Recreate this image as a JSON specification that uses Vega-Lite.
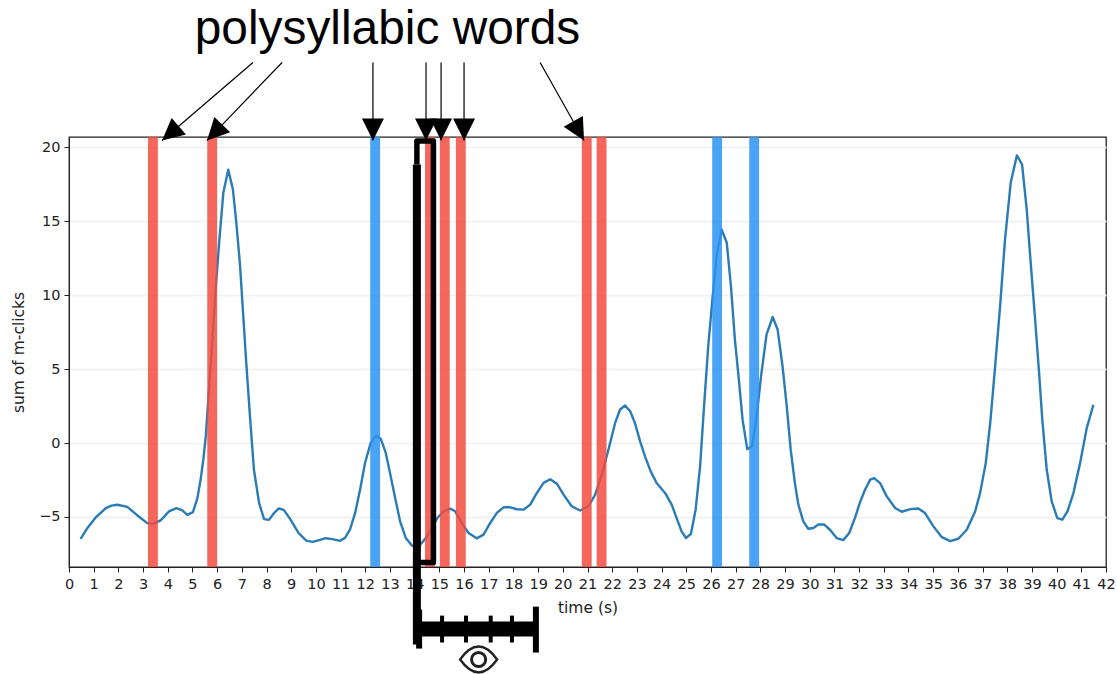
{
"$schema":"https://vega.github.io/schema/vega-lite/v6.json",
"width":1037,"height":430,
"autosize":{"type":"none"},
"padding":{"left":69,"top":137,"right":11,"bottom":107},
"background":"white",
"config":{"view":{"stroke":"#222222","strokeWidth":1.3},"font":"DejaVu Sans"},
"datasets":{
"curve":[
{"t":0.47,"v":-6.48},{"t":0.74,"v":-5.76},{"t":1.08,"v":-5.04},{"t":1.49,"v":-4.41},{"t":1.72,"v":-4.24},{"t":1.96,"v":-4.18},{"t":2.36,"v":-4.32},{"t":2.77,"v":-4.9},{"t":3.17,"v":-5.42},{"t":3.4,"v":-5.49},{"t":3.71,"v":-5.24},{"t":4.05,"v":-4.63},{"t":4.35,"v":-4.41},{"t":4.59,"v":-4.56},{"t":4.79,"v":-4.86},{"t":5.02,"v":-4.68},{"t":5.2,"v":-3.73},{"t":5.33,"v":-2.49},{"t":5.44,"v":-1.13},{"t":5.54,"v":0.45},{"t":5.64,"v":2.93},{"t":5.78,"v":6.3},{"t":5.94,"v":10.4},{"t":6.08,"v":13.54},{"t":6.25,"v":16.93},{"t":6.45,"v":18.5},{"t":6.64,"v":17.15},{"t":6.79,"v":14.67},{"t":6.93,"v":11.96},{"t":7.05,"v":8.8},{"t":7.18,"v":5.41},{"t":7.33,"v":1.8},{"t":7.49,"v":-1.81},{"t":7.7,"v":-4.07},{"t":7.9,"v":-5.15},{"t":8.1,"v":-5.2},{"t":8.3,"v":-4.75},{"t":8.5,"v":-4.43},{"t":8.7,"v":-4.52},{"t":8.98,"v":-5.2},{"t":9.3,"v":-6.1},{"t":9.61,"v":-6.6},{"t":9.86,"v":-6.69},{"t":10.13,"v":-6.57},{"t":10.4,"v":-6.44},{"t":10.67,"v":-6.5},{"t":10.98,"v":-6.62},
{"t":11.18,"v":-6.42},{"t":11.38,"v":-5.86},{"t":11.59,"v":-4.73},{"t":11.79,"v":-3.15},{"t":11.99,"v":-1.35},{"t":12.22,"v":0.01},{"t":12.44,"v":0.5},{"t":12.63,"v":0.28},{"t":12.83,"v":-0.67},{"t":13.0,"v":-2.02},{"t":13.21,"v":-3.72},{"t":13.41,"v":-5.3},{"t":13.64,"v":-6.42},{"t":13.88,"v":-6.92},{"t":14.05,"v":-7.02},{"t":14.22,"v":-6.88},{"t":14.46,"v":-6.42},{"t":14.69,"v":-5.75},{"t":14.92,"v":-5.07},{"t":15.17,"v":-4.62},{"t":15.44,"v":-4.44},{"t":15.64,"v":-4.62},{"t":15.91,"v":-5.41},{"t":16.18,"v":-6.09},{"t":16.51,"v":-6.45},{"t":16.79,"v":-6.2},{"t":17.06,"v":-5.41},{"t":17.33,"v":-4.73},{"t":17.6,"v":-4.35},{"t":17.87,"v":-4.35},{"t":18.14,"v":-4.48},{"t":18.41,"v":-4.51},{"t":18.68,"v":-4.17},{"t":18.95,"v":-3.38},{"t":19.22,"v":-2.7},{"t":19.49,"v":-2.45},{"t":19.76,"v":-2.75},{"t":20.03,"v":-3.49},{"t":20.36,"v":-4.28},{"t":20.7,"v":-4.57},{"t":21.04,"v":-4.28},{"t":21.31,"v":-3.49},{"t":21.58,"v":-2.14},{"t":21.85,"v":-0.44},{"t":22.12,"v":1.36},{"t":22.32,"v":2.27},{"t":22.52,"v":2.54},{"t":22.73,"v":2.15},
{"t":22.92,"v":1.36},{"t":23.13,"v":0.11},{"t":23.33,"v":-0.9},{"t":23.56,"v":-1.92},{"t":23.8,"v":-2.71},{"t":24.14,"v":-3.38},{"t":24.41,"v":-4.17},{"t":24.61,"v":-5.08},{"t":24.81,"v":-5.98},{"t":24.99,"v":-6.43},{"t":25.19,"v":-6.14},{"t":25.38,"v":-4.51},{"t":25.56,"v":-1.58},{"t":25.72,"v":2.48},{"t":25.89,"v":6.55},{"t":26.07,"v":9.93},{"t":26.23,"v":12.64},{"t":26.43,"v":14.45},{"t":26.64,"v":13.55},{"t":26.81,"v":10.61},{"t":26.97,"v":7.0},{"t":27.13,"v":4.29},{"t":27.28,"v":1.58},{"t":27.47,"v":-0.41},{"t":27.67,"v":-0.22},{"t":27.85,"v":1.81},{"t":28.03,"v":4.52},{"t":28.25,"v":7.34},{"t":28.5,"v":8.53},{"t":28.7,"v":7.68},{"t":28.9,"v":5.19},{"t":29.07,"v":2.48},{"t":29.23,"v":-0.45},{"t":29.4,"v":-2.71},{"t":29.54,"v":-4.17},{"t":29.74,"v":-5.3},{"t":29.94,"v":-5.8},{"t":30.15,"v":-5.75},{"t":30.35,"v":-5.51},{"t":30.58,"v":-5.51},{"t":30.82,"v":-5.87},{"t":31.09,"v":-6.43},{"t":31.36,"v":-6.57},{"t":31.6,"v":-6.09},{"t":31.83,"v":-5.08},{"t":32.04,"v":-4.0},
{"t":32.24,"v":-3.16},{"t":32.45,"v":-2.48},{"t":32.61,"v":-2.37},{"t":32.85,"v":-2.71},{"t":33.12,"v":-3.61},{"t":33.46,"v":-4.4},{"t":33.73,"v":-4.65},{"t":34.07,"v":-4.47},{"t":34.4,"v":-4.43},{"t":34.67,"v":-4.74},{"t":35.01,"v":-5.64},{"t":35.35,"v":-6.37},{"t":35.69,"v":-6.64},{"t":36.02,"v":-6.48},{"t":36.36,"v":-5.87},{"t":36.7,"v":-4.63},{"t":36.9,"v":-3.39},{"t":37.13,"v":-1.36},{"t":37.31,"v":1.35},{"t":37.51,"v":5.19},{"t":37.71,"v":9.25},{"t":37.91,"v":13.77},{"t":38.14,"v":17.61},{"t":38.39,"v":19.46},{"t":38.6,"v":18.85},{"t":38.79,"v":15.8},{"t":38.95,"v":12.19},{"t":39.13,"v":8.35},{"t":39.29,"v":4.74},{"t":39.42,"v":1.58},{"t":39.6,"v":-1.81},{"t":39.8,"v":-3.95},{"t":40.03,"v":-5.08},{"t":40.23,"v":-5.19},{"t":40.44,"v":-4.63},{"t":40.68,"v":-3.39},{"t":40.95,"v":-1.36},{"t":41.22,"v":1.01},{"t":41.49,"v":2.59}
],
"bands":[
{"t":3.2,"t2":3.6,"v":-8.39,"v2":20.71,"kind":"polysyllabic"},
{"t":5.6,"t2":6.0,"v":-8.39,"v2":20.71,"kind":"polysyllabic"},
{"t":12.2,"t2":12.6,"v":-8.39,"v2":20.71,"kind":"other"},
{"t":14.42,"t2":14.82,"v":-8.39,"v2":20.71,"kind":"polysyllabic"},
{"t":15.02,"t2":15.42,"v":-8.39,"v2":20.71,"kind":"polysyllabic"},
{"t":15.67,"t2":16.07,"v":-8.39,"v2":20.71,"kind":"polysyllabic"},
{"t":20.77,"t2":21.17,"v":-8.39,"v2":20.71,"kind":"polysyllabic"},
{"t":21.37,"t2":21.77,"v":-8.39,"v2":20.71,"kind":"polysyllabic"},
{"t":26.05,"t2":26.45,"v":-8.39,"v2":20.71,"kind":"other"},
{"t":27.55,"t2":27.95,"v":-8.39,"v2":20.71,"kind":"other"}
],
"arrows":[
{"id":1,"t":3.77,"v":20.47,"t2":7.45,"v2":25.75},
{"id":2,"t":5.59,"v":20.47,"t2":8.63,"v2":25.75},
{"id":3,"t":12.31,"v":20.47,"t2":12.31,"v2":25.75},
{"id":4,"t":14.46,"v":20.47,"t2":14.46,"v2":25.75},
{"id":5,"t":15.07,"v":20.47,"t2":15.07,"v2":25.75},
{"id":6,"t":16.0,"v":20.47,"t2":16.0,"v2":25.75},
{"id":7,"t":20.86,"v":20.47,"t2":19.08,"v2":25.75}
],
"bracket":[
{"seq":1,"t":14.09,"v":18.85},{"seq":2,"t":14.09,"v":20.44},{"seq":3,"t":14.76,"v":20.44},{"seq":4,"t":14.76,"v":-8.09},{"seq":5,"t":14.09,"v":-8.09}
],
"stem":[{"t":14.09,"t2":14.09,"v":18.85,"v2":-13.64}],
"bar":[{"t":14.14,"t2":18.95,"v":-12.59,"v2":-12.59}],
"smallTicks":[
{"t":15.11,"t2":15.11,"v":-11.68,"v2":-13.5},{"t":16.08,"t2":16.08,"v":-11.68,"v2":-13.5},{"t":17.08,"t2":17.08,"v":-11.68,"v2":-13.5},{"t":17.94,"t2":17.94,"v":-11.68,"v2":-13.5}
],
"endTicks":[
{"t":14.18,"t2":14.18,"v":-11.27,"v2":-13.91},{"t":18.91,"t2":18.91,"v":-11.07,"v2":-14.18}
],
"heading":[{"t":12.9,"v":26.97,"label":"polysyllabic words"}],
"eye":[{"t":16.59,"v":-14.65}]
},
"encoding":{
"x":{"field":"t","type":"quantitative","scale":{"domain":[0,42],"nice":false,"zero":false},
"axis":{"title":"time (s)","values":[0,1,2,3,4,5,6,7,8,9,10,11,12,13,14,15,16,17,18,19,20,21,22,23,24,25,26,27,28,29,30,31,32,33,34,35,36,37,38,39,40,41,42],"format":"d","labelOverlap":false,"labelFlush":false,"grid":false,"labelFont":"DejaVu Sans","labelFontSize":14.5,"labelColor":"#222222","titleFont":"DejaVu Sans","titleFontSize":15.5,"titleFontWeight":"normal","titleColor":"#222222","tickColor":"#222222","domainColor":"#222222","tickSize":5,"labelPadding":5,"titlePadding":10}},
"y":{"field":"v","type":"quantitative","scale":{"domain":[-8.39,20.71],"nice":false,"zero":false},
"axis":{"title":"sum of m-clicks","values":[-5,0,5,10,15,20],"format":"d","grid":true,"gridColor":"#f2f2f2","gridWidth":2,"labelFont":"DejaVu Sans","labelFontSize":14.5,"labelColor":"#222222","titleFont":"DejaVu Sans","titleFontSize":15.5,"titleFontWeight":"normal","titleColor":"#222222","tickColor":"#222222","domainColor":"#222222","tickSize":5,"labelPadding":4,"titlePadding":12}}
},
"layer":[
{"data":{"name":"curve"},"mark":{"type":"line","color":"#2b7bb5","strokeWidth":2.4,"strokeJoin":"round"}},
{"data":{"name":"bands"},"mark":{"type":"rect","opacity":0.85},
 "encoding":{"x2":{"field":"t2"},"y2":{"field":"v2"},
 "color":{"field":"kind","type":"nominal","legend":null,"scale":{"domain":["polysyllabic","other"],"range":["#f34b3f","#2b93f3"]}}}},
{"data":{"name":"arrows"},"mark":{"type":"rule","color":"black","strokeWidth":1.2},"encoding":{"x2":{"field":"t2"},"y2":{"field":"v2"}}},
{"data":{"name":"arrows"},"transform":[{"filter":"datum.id==1"}],"mark":{"type":"point","shape":"M0,0L-0.5,-1L0.5,-1Z","filled":true,"opacity":1,"color":"black","size":1936,"angle":49.4}},
{"data":{"name":"arrows"},"transform":[{"filter":"datum.id==2"}],"mark":{"type":"point","shape":"M0,0L-0.5,-1L0.5,-1Z","filled":true,"opacity":1,"color":"black","size":1936,"angle":43.9}},
{"data":{"name":"arrows"},"transform":[{"filter":"datum.id>=3&&datum.id<=6"}],"mark":{"type":"point","shape":"M0,0L-0.5,-1L0.5,-1Z","filled":true,"opacity":1,"color":"black","size":1936}},
{"data":{"name":"arrows"},"transform":[{"filter":"datum.id==7"}],"mark":{"type":"point","shape":"M0,0L-0.5,-1L0.5,-1Z","filled":true,"opacity":1,"color":"black","size":1936,"angle":330.6}},
{"data":{"name":"bracket"},"mark":{"type":"line","color":"black","strokeWidth":5.5,"strokeJoin":"round"},"encoding":{"order":{"field":"seq","type":"quantitative"}}},
{"data":{"name":"stem"},"mark":{"type":"rule","color":"black","strokeWidth":8},"encoding":{"x2":{"field":"t2"},"y2":{"field":"v2"}}},
{"data":{"name":"bar"},"mark":{"type":"rule","color":"black","strokeWidth":15},"encoding":{"x2":{"field":"t2"},"y2":{"field":"v2"}}},
{"data":{"name":"smallTicks"},"mark":{"type":"rule","color":"black","strokeWidth":4},"encoding":{"x2":{"field":"t2"},"y2":{"field":"v2"}}},
{"data":{"name":"endTicks"},"mark":{"type":"rule","color":"black","strokeWidth":6},"encoding":{"x2":{"field":"t2"},"y2":{"field":"v2"}}},
{"data":{"name":"heading"},"mark":{"type":"text","font":"Liberation Sans","fontSize":47.85,"color":"black","align":"center","baseline":"alphabetic"},"encoding":{"text":{"field":"label"}}},
{"data":{"name":"eye"},"mark":{"type":"point","shape":"M-1,0Q0,-1.4 1,0Q0,1.4 -1,0Z","filled":false,"opacity":1,"color":"#222222","strokeWidth":2.4,"size":1369}},
{"data":{"name":"eye"},"mark":{"type":"point","shape":"circle","filled":false,"opacity":1,"color":"#222222","strokeWidth":3,"size":200}}
]
}
